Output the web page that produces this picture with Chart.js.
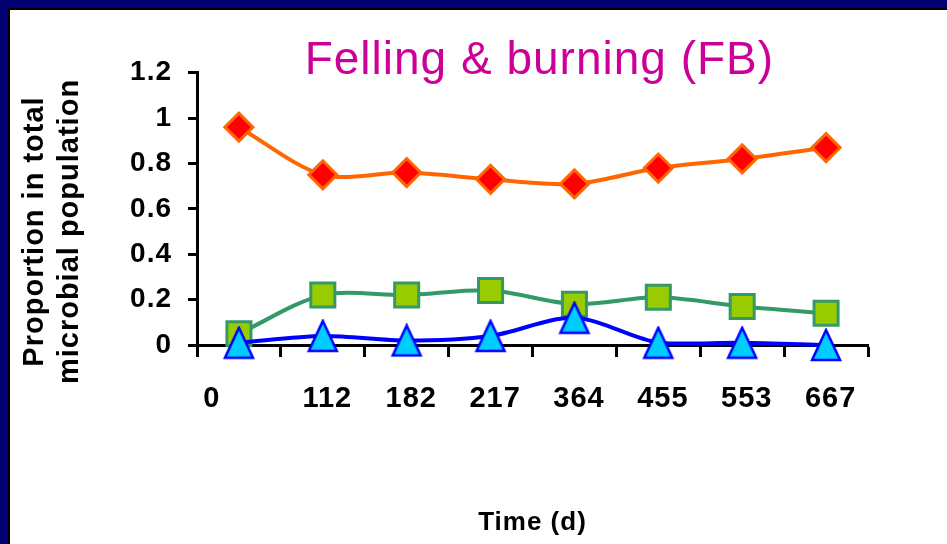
<!DOCTYPE html>
<html>
<head>
<meta charset="utf-8">
<script src="https://cdn.jsdelivr.net/npm/chart.js@4"></script>
<style>
    html, body { margin: 0; padding: 0; }
    body { width: 947px; height: 544px; background: #000070; position: relative; overflow: hidden; }
    #frame {
        position: absolute; left: 8px; top: 8px; width: 937px; height: 534px;
        background: #fff; border-top: 2px solid #000; border-left: 2px solid #000;
    }
    #chart { display: block; }
</style>
</head>
<body>
<div id="frame">
    <canvas id="chart" width="937" height="534"></canvas>
</div>
<script>
// Données
const timeLabels = ['0', '112', '182', '217', '364', '455', '553', '667'];
const yTickLabels = ['0', '0.2', '0.4', '0.6', '0.8', '1', '1.2'];

const diamondSeries = [0.96, 0.75, 0.76, 0.73, 0.71, 0.78, 0.82, 0.87];
const squareSeries = [0.05, 0.22, 0.22, 0.24, 0.18, 0.21, 0.17, 0.14];
const triangleSeries = [0.01, 0.04, 0.02, 0.04, 0.12, 0.01, 0.01, 0.0];

const FONT = 'Liberation Sans, Arial, sans-serif';
const NBSP = '\u00a0';

// Triangle centré sur sa boîte (comme dans Excel)
function makeTriangle() {
    const c = document.createElement('canvas');
    c.width = 34;
    c.height = 34;
    const g = c.getContext('2d');
    g.beginPath();
    g.moveTo(17, 2);
    g.lineTo(31, 32);
    g.lineTo(3, 32);
    g.closePath();
    g.fillStyle = '#00ccff';
    g.fill();
    g.lineWidth = 2.5;
    g.strokeStyle = '#0000ff';
    g.stroke();
    return c;
}

// Un peu d'espacement entre les lettres
const spacingPlugin = {
    id: 'spacing',
    beforeDraw(chart) {
        chart.ctx.letterSpacing = '1px';
    }
};

document.addEventListener('DOMContentLoaded', function() {
    const ctx = document.getElementById('chart');

    new Chart(ctx, {
        type: 'line',
        data: {
            labels: timeLabels,
            datasets: [{
                data: triangleSeries,
                borderColor: '#0000ff',
                borderWidth: 4,
                tension: 0.3,
                pointStyle: makeTriangle(),
                pointRadius: 17,
                clip: false
            }, {
                data: squareSeries,
                borderColor: '#339966',
                borderWidth: 4,
                tension: 0.3,
                pointStyle: 'rect',
                pointRadius: 17,
                pointBackgroundColor: '#99cc00',
                pointBorderColor: '#339966',
                pointBorderWidth: 3,
                clip: false
            }, {
                data: diamondSeries,
                borderColor: '#ff6600',
                borderWidth: 4,
                tension: 0.3,
                pointStyle: 'rectRot',
                pointRadius: 14,
                pointBackgroundColor: '#ff0000',
                pointBorderColor: '#ff6600',
                pointBorderWidth: 3,
                clip: false
            }]
        },
        options: {
            responsive: false,
            animation: false,
            layout: { padding: { left: 0, top: 0, bottom: 0, right: 79 } },
            plugins: {
                legend: { display: false },
                tooltip: { enabled: false },
                title: {
                    display: true,
                    text: NBSP + 'Felling & burning (FB)',
                    color: '#cc0099',
                    fullSize: false,
                    font: { family: FONT, size: 46, weight: 'normal', lineHeight: 0.45 },
                    padding: { top: 41, bottom: 1 }
                }
            },
            scales: {
                x: {
                    offset: true,
                    grid: {
                        offset: true,
                        drawOnChartArea: false,
                        drawTicks: true,
                        tickLength: 12,
                        tickColor: '#000',
                        tickWidth: 3
                    },
                    border: { display: true, color: '#000', width: 3 },
                    ticks: {
                        color: '#000',
                        padding: 25,
                        maxRotation: 0,
                        autoSkip: false,
                        font: { family: FONT, size: 29, weight: 'bold' },
                        callback: (v, i) => i === 0 ? timeLabels[0] + NBSP.repeat(6) : NBSP + timeLabels[i]
                    },
                    title: {
                        display: true,
                        text: 'Time (d)',
                        color: '#000',
                        font: { family: FONT, size: 26, weight: 'bold', lineHeight: 1.2 },
                        padding: { top: 0, bottom: 6 }
                    },
                    afterFit: (scale) => { scale.height = 199; }
                },
                y: {
                    min: 0,
                    max: 1.2,
                    grid: {
                        drawOnChartArea: false,
                        drawTicks: true,
                        tickLength: 9,
                        tickColor: '#000',
                        tickWidth: 3
                    },
                    border: { display: true, color: '#000', width: 3 },
                    ticks: {
                        stepSize: 0.2,
                        color: '#000',
                        padding: 16,
                        font: { family: FONT, size: 28, weight: 'bold' },
                        callback: (v) => yTickLabels[Math.round(v / 0.2)]
                    },
                    title: {
                        display: true,
                        text: ['Proportion in total' + NBSP.repeat(5), 'microbial population' + NBSP.repeat(5)],
                        color: '#000',
                        font: { family: FONT, size: 29, weight: 'bold', lineHeight: '35px' },
                        padding: { top: 7, bottom: 0 }
                    },
                    afterFit: (scale) => { scale.width = 187; }
                }
            }
        },
        plugins: [spacingPlugin]
    });
});
</script>
</body>
</html>
